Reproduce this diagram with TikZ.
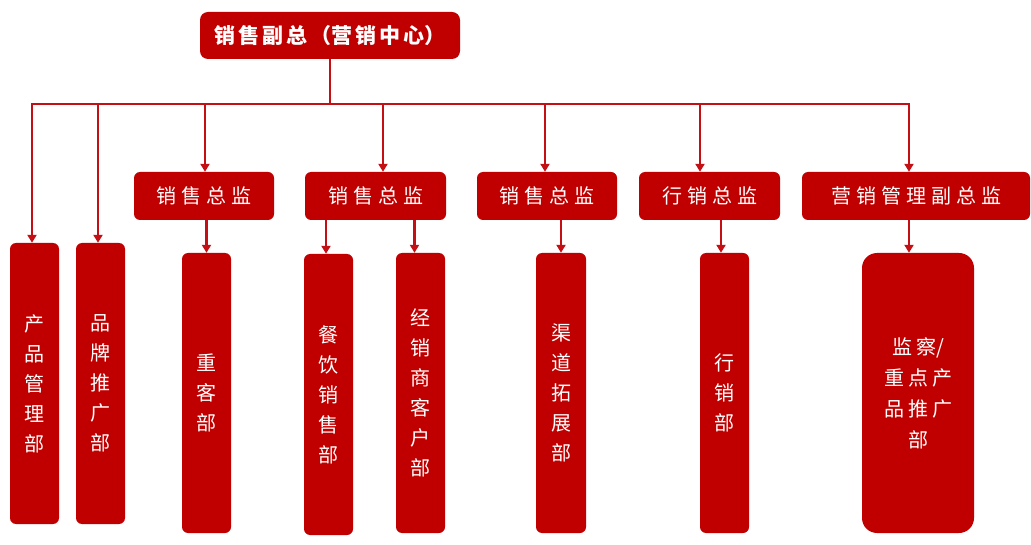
\documentclass[tikz,border=0pt]{standalone}
\usepackage{fontspec}
\newfontfamily\cjk{Noto Sans CJK SC}
\usetikzlibrary{arrows.meta}
\definecolor{dred}{HTML}{C00000}
\definecolor{lred}{HTML}{C40F14}
\newcommand\gk{\kern5pt}
\newcommand\gm{\kern4pt}
\begin{document}
\begin{tikzpicture}[x=1pt,y=-1pt,
  box/.style={fill=dred,draw=none,rounded corners=6pt,text=white,inner sep=0pt,align=center,font=\cjk\fontsize{20}{30}\selectfont},
  conn/.style={draw=lred,line width=2.8pt,-{Triangle[length=8pt,width=9pt]}},
]
\useasboundingbox (0,0) rectangle (1031,545);
% top
\node[box,rounded corners=8pt,minimum width=260pt,minimum height=47pt,font=\cjk\bfseries\fontsize{21}{24}\selectfont] (top) at (330,35.5)
  {销\kern3pt 售\kern3pt 副\kern3pt 总\kern3pt （营\kern3pt 销\kern3pt 中\kern3pt 心）};
\coordinate (bus) at (0,104);
% directors
\node[box,minimum width=140pt,minimum height=48pt] (d1) at (204,196) {销\gk 售\gk 总\gk 监};
\node[box,minimum width=141pt,minimum height=48pt] (d2) at (375.5,196) {销\gk 售\gk 总\gk 监};
\node[box,minimum width=140pt,minimum height=48pt] (d3) at (547,196) {销\gk 售\gk 总\gk 监};
\node[box,minimum width=141pt,minimum height=48pt] (d4) at (709.5,196) {行\gk 销\gk 总\gk 监};
\node[box,minimum width=228pt,minimum height=48pt] (d5) at (916,196) {营\gk 销\gk 管\gk 理\gk 副\gk 总\gk 监};
% departments
\node[box,minimum width=49pt,minimum height=281pt] (p1) at (34.5,383.5) {产\\品\\管\\理\\部};
\node[box,minimum width=49pt,minimum height=281pt] (p2) at (100.5,383.5) {品\\牌\\推\\广\\部};
\node[box,minimum width=49pt,minimum height=280pt] (k1) at (206.5,393) {重\\客\\部};
\node[box,minimum width=49pt,minimum height=281pt] (k2) at (328.5,394.5) {餐\\饮\\销\\售\\部};
\node[box,minimum width=49pt,minimum height=280pt] (k3) at (420.5,393) {经\\销\\商\\客\\户\\部};
\node[box,minimum width=50pt,minimum height=280pt] (k4) at (561,393) {渠\\道\\拓\\展\\部};
\node[box,minimum width=49pt,minimum height=280pt] (k5) at (724.5,393) {行\\销\\部};
\node[box,rounded corners=15pt,minimum width=112pt,minimum height=280pt,font=\cjk\fontsize{20}{31}\selectfont] (k6) at (918,393) {监\gm 察/\\重\gm 点\gm 产\\品\gm 推\gm 广\\部};
% connectors from top
\draw[conn] (top.south) -- (top.south |- bus) -| ([xshift=-2.5pt]p1.north);
\draw[conn] (top.south) -- (top.south |- bus) -| ([xshift=-2.5pt]p2.north);
\draw[conn] (top.south) -- (top.south |- bus) -| ([xshift=1pt]d1.north);
\draw[conn] (top.south) -- (top.south |- bus) -| ([xshift=7.5pt]d2.north);
\draw[conn] (top.south) -- (top.south |- bus) -| ([xshift=-2pt]d3.north);
\draw[conn] (top.south) -- (top.south |- bus) -| ([xshift=-9.5pt]d4.north);
\draw[conn] (top.south) -- (top.south |- bus) -| ([xshift=-7pt]d5.north);
% connectors to departments
\draw[conn] (d1.south -| k1.north) -- (k1.north);
\draw[conn] ([xshift=-2.5pt]d2.south -| k2.north) -- ([xshift=-2.5pt]k2.north);
\draw[conn] ([xshift=-6pt]d2.south -| k3.north) -- ([xshift=-6pt]k3.north);
\draw[conn] (d3.south -| k4.north) -- (k4.north);
\draw[conn] ([xshift=-3.5pt]d4.south -| k5.north) -- ([xshift=-3.5pt]k5.north);
\draw[conn] ([xshift=-7pt]d5.south) -- ([xshift=-7pt]d5.south |- k6.north);
\end{tikzpicture}
\end{document}
